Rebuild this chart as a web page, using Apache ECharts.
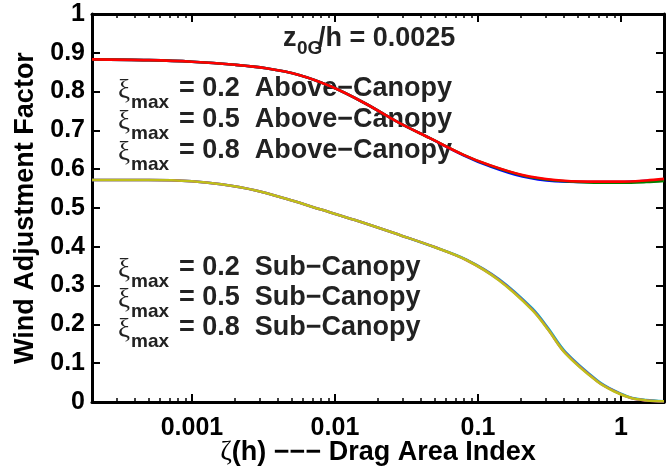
<!DOCTYPE html>
<html>
<head>
<meta charset="utf-8">
<script src="https://cdn.jsdelivr.net/npm/echarts@6/dist/echarts.min.js"></script>
<style>
  html, body { margin: 0; padding: 0; background: #fff; }
  #chart { width: 671px; height: 468px; }
</style>
</head>
<body>
<div id="chart"></div>
<script>
// Drag area index (zeta) sample points and wind adjustment factors
const ZETA_ABOVE = [0.0002, 0.0005, 0.001, 0.002, 0.0033, 0.0056, 0.0094, 0.0162, 0.0273,
                    0.0461, 0.0792, 0.12, 0.205, 0.347, 0.586, 1.0, 1.5, 2.0];
const ABOVE_02 = [0.883, 0.881, 0.877, 0.869, 0.860, 0.843, 0.813, 0.770, 0.722,
                  0.680, 0.636, 0.608, 0.581, 0.569, 0.567, 0.567, 0.570, 0.573];
const ABOVE_05 = [0.883, 0.881, 0.877, 0.869, 0.860, 0.843, 0.813, 0.770, 0.722,
                  0.680, 0.637, 0.610, 0.584, 0.571, 0.566, 0.565, 0.567, 0.570];
const ABOVE_08 = [0.883, 0.881, 0.877, 0.869, 0.860, 0.843, 0.813, 0.770, 0.722,
                  0.680, 0.637, 0.611, 0.585, 0.572, 0.568, 0.568, 0.571, 0.575];

const ZETA_SUB = [0.0002, 0.0005, 0.001, 0.0016, 0.0028, 0.0048, 0.008, 0.0138, 0.0286,
                  0.0491, 0.083, 0.14, 0.24, 0.31, 0.407, 0.687, 0.9, 1.18, 1.5, 2.0];
const SUB_02 = [0.572, 0.572, 0.569, 0.561, 0.545, 0.521, 0.496, 0.469, 0.430,
                0.400, 0.367, 0.317, 0.241, 0.190, 0.130, 0.055, 0.029, 0.011, 0.005, 0.002];
const SUB_05 = [0.572, 0.572, 0.569, 0.561, 0.545, 0.521, 0.496, 0.469, 0.430,
                0.400, 0.366, 0.315, 0.238, 0.187, 0.127, 0.053, 0.028, 0.010, 0.004, 0.002];
const SUB_08 = [0.572, 0.572, 0.569, 0.561, 0.545, 0.521, 0.496, 0.469, 0.430,
                0.400, 0.366, 0.314, 0.237, 0.186, 0.126, 0.052, 0.027, 0.010, 0.004, 0.002];

// Axis ticks
const X_MAJOR = [0.001, 0.01, 0.1, 1];
const X_MINOR = [0.0002, 0.0003, 0.0004, 0.0005, 0.0006, 0.0007, 0.0008, 0.0009,
                 0.002, 0.003, 0.004, 0.005, 0.006, 0.007, 0.008, 0.009,
                 0.02, 0.03, 0.04, 0.05, 0.06, 0.07, 0.08, 0.09,
                 0.2, 0.3, 0.4, 0.5, 0.6, 0.7, 0.8, 0.9, 2];
const X_LABELS = ['0.001', '0.01', '0.1', '1'];
const Y_TICKS = [0, 0.1, 0.2, 0.3, 0.4, 0.5, 0.6, 0.7, 0.8, 0.9, 1];

const FONT = '"Liberation Sans", Arial, Helvetica, sans-serif';
const SERIF = '"Liberation Serif", "DejaVu Serif", serif';

const chart = echarts.init(document.getElementById('chart'), null, { renderer: 'canvas' });

function pairs(xs, ys) { return xs.map((x, i) => [x, ys[i]]); }

function logAxis(position, ticks, len, tickWidth, withLabels, lineShow) {
  return {
    type: 'log', logBase: 10, min: 0.0002, max: 2, position: position,
    axisLine: { show: lineShow, lineStyle: { color: '#000', width: 3 } },
    splitLine: { show: false },
    axisTick: { show: true, inside: true, length: len, customValues: ticks,
                lineStyle: { color: '#000', width: tickWidth } },
    axisLabel: withLabels ? {
      show: true, customValues: X_MAJOR, margin: 14,
      color: '#000', fontFamily: FONT, fontWeight: 'bold', fontSize: 25,
      formatter: v => X_LABELS[X_MAJOR.findIndex(m => Math.abs(m - v) / m < 1e-6)] || ''
    } : { show: false }
  };
}

function valAxis(position, withLabels) {
  return {
    type: 'value', min: 0, max: 1, interval: 0.1, position: position,
    axisLine: { show: true, lineStyle: { color: '#000', width: 3 } },
    splitLine: { show: false },
    axisTick: { show: true, inside: true, length: 8, customValues: Y_TICKS,
                lineStyle: { color: '#000', width: 2 } },
    axisLabel: withLabels ? {
      show: true, margin: 7, color: '#000', fontFamily: FONT, fontWeight: 'bold', fontSize: 25
    } : { show: false }
  };
}

function line(name, xs, ys, color) {
  return {
    name: name, type: 'line', xAxisIndex: 0, yAxisIndex: 0,
    data: pairs(xs, ys), showSymbol: false, smooth: 0.35,
    lineStyle: { color: color, width: 2.6 }, silent: true, animation: false
  };
}

const xAxisBottom = logAxis('bottom', X_MAJOR, 8, 2, true, true);
xAxisBottom.name = '{z|ζ}(h) −−− Drag Area Index';
xAxisBottom.nameLocation = 'middle';
xAxisBottom.nameGap = 37;
xAxisBottom.nameMoveOverlap = false;
xAxisBottom.nameTextStyle = {
  color: '#000', fontFamily: FONT, fontWeight: 'bold', fontSize: 27,
  rich: { z: { fontFamily: SERIF, fontWeight: 'normal', fontSize: 28, color: '#000' } }
};

const yAxisLeft = valAxis('left', true);
yAxisLeft.name = 'Wind Adjustment Factor';
yAxisLeft.nameLocation = 'middle';
yAxisLeft.nameGap = 53;
yAxisLeft.nameMoveOverlap = false;
yAxisLeft.nameTextStyle = { color: '#000', fontFamily: FONT, fontWeight: 'bold', fontSize: 27 };

// Text annotations: xi_max labels and roughness ratio
function xiLabel(x, yMid, text) {
  return {
    type: 'group', x: x, y: yMid,
    children: [
      { type: 'text', x: 0, y: 3, style: { text: 'ξ', font: 'normal 27px ' + SERIF, fill: '#222',
        textAlign: 'left', textVerticalAlign: 'middle' } },
      { type: 'text', x: 13, y: 15, style: { text: 'max', font: 'bold 19px ' + FONT, fill: '#222',
        textAlign: 'left', textVerticalAlign: 'middle' } },
      { type: 'text', x: 61, y: 1, style: { text: text, font: 'bold 27px ' + FONT, fill: '#222',
        textAlign: 'left', textVerticalAlign: 'middle' } }
    ]
  };
}

const graphics = [
  {
    type: 'group', x: 283, y: 39,
    children: [
      { type: 'text', x: 0, y: 0, style: { text: 'z', font: 'bold 27px ' + FONT, fill: '#222',
        textAlign: 'left', textVerticalAlign: 'middle' } },
      { type: 'text', x: 14, y: 10, style: { text: '0G', font: 'bold 19px ' + FONT, fill: '#222',
        textAlign: 'left', textVerticalAlign: 'middle' } },
      { type: 'text', x: 35, y: 0, style: { text: '/h = 0.0025', font: 'bold 27px ' + FONT, fill: '#222',
        textAlign: 'left', textVerticalAlign: 'middle' } }
    ]
  },
  xiLabel(118, 88, '= 0.2  Above−Canopy'),
  xiLabel(118, 119, '= 0.5  Above−Canopy'),
  xiLabel(118, 150, '= 0.8  Above−Canopy'),
  xiLabel(118, 267, '= 0.2  Sub−Canopy'),
  xiLabel(118, 297, '= 0.5  Sub−Canopy'),
  xiLabel(118, 327, '= 0.8  Sub−Canopy')
];

chart.setOption({
  animation: false,
  backgroundColor: '#fff',
  grid: { left: 92, right: 7, top: 14, bottom: 66, show: false,
          containLabel: false, outerBoundsMode: 'none' },
  xAxis: [
    xAxisBottom,
    logAxis('bottom', X_MINOR, 4, 1.5, false, false),
    logAxis('top', X_MAJOR, 8, 2, false, true),
    logAxis('top', X_MINOR, 4, 1.5, false, false)
  ],
  yAxis: [yAxisLeft, valAxis('right', false)],
  series: [
    line('ξmax = 0.2 Above-Canopy', ZETA_ABOVE, ABOVE_02, '#0000ff'),
    line('ξmax = 0.5 Above-Canopy', ZETA_ABOVE, ABOVE_05, '#008000'),
    line('ξmax = 0.8 Above-Canopy', ZETA_ABOVE, ABOVE_08, '#ff0000'),
    line('ξmax = 0.2 Sub-Canopy', ZETA_SUB, SUB_02, '#00bfbf'),
    line('ξmax = 0.5 Sub-Canopy', ZETA_SUB, SUB_05, '#bf00bf'),
    line('ξmax = 0.8 Sub-Canopy', ZETA_SUB, SUB_08, '#bfbf1a')
  ],
  graphic: graphics
});
</script>
</body>
</html>
